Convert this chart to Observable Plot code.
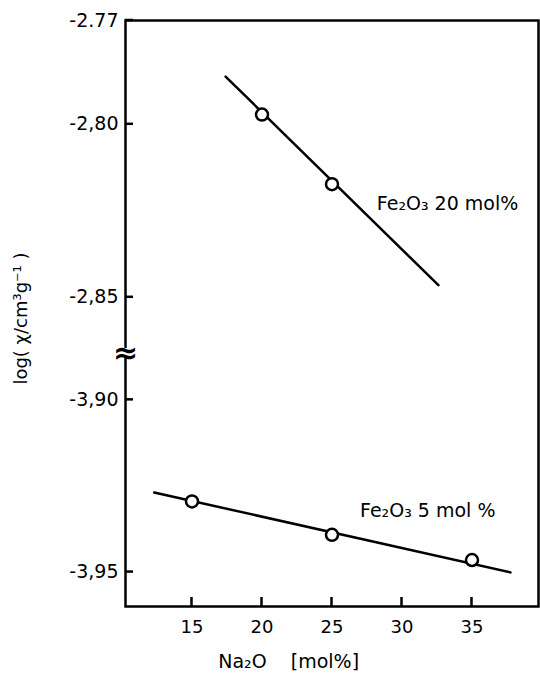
<!DOCTYPE html>
<html><head><meta charset="utf-8">
<script src="https://cdn.jsdelivr.net/npm/d3@7"></script>
<script src="https://cdn.jsdelivr.net/npm/@observablehq/plot@0.6"></script>
<style>body{margin:0;background:#fff;}</style>
</head><body><div id="chart"></div>
<script>
// ---- data ----
const xTicks = [15, 20, 25, 30, 35];
const yTicks = [-2.77, -2.80, -2.85, -3.90, -3.95];
const yTickLabels = ["-2.77", "-2,80", "-2,85", "-3,90", "-3,95"];

const na2o20 = [20, 25];
const logChi20 = [-2.7972, -2.8173];
const na2o5 = [15, 25, 35];
const logChi5 = [-3.9295, -3.9392, -3.9465];

const fit20x = [17.4, 32.6];
const fit20y = [-2.7862, -2.8465];
const fit5x = [12.3, 37.75];
const fit5y = [-3.9269, -3.9501];

const seriesLabels = ["Fe₂O₃ 20 mol%", "Fe₂O₃ 5 mol %"];
const labelX = [28.2, 27.0];
const labelY = [-2.8231, -3.9321];

const xLabel = "Na₂O    [mol%]";
const yLabel = "log( χ/cm³g⁻¹ )";

const xDomain = [10.25, 39.75];
// broken axis: lower segment end, upper segment start
const yDomain = [-3.96, -3.8877, -2.8648, -2.77];
const yBreak = -3.38;

// ---- tables ----
const pts = [
  ...na2o20.map((x, i) => ({x, y: logChi20[i], s: "20"})),
  ...na2o5.map((x, i) => ({x, y: logChi5[i], s: "5"}))
];
const fits = [
  ...fit20x.map((x, i) => ({x, y: fit20y[i], s: "20"})),
  ...fit5x.map((x, i) => ({x, y: fit5y[i], s: "5"}))
];
const labels = seriesLabels.map((t, i) => ({t, x: labelX[i], y: labelY[i]}));

// inward ticks drawn through the plot's own scales
function inwardTicks(index, scales, values, dimensions) {
  const {x, y} = scales;
  const {marginLeft, marginBottom, height} = dimensions;
  const yb = height - marginBottom;
  const g = d3.create("svg:g").attr("stroke", "black").attr("stroke-width", 2.5);
  for (const v of yTicks) {
    g.append("line").attr("x1", marginLeft).attr("x2", marginLeft + 8)
      .attr("y1", y(v)).attr("y2", y(v));
  }
  for (const v of xTicks) {
    g.append("line").attr("x1", x(v)).attr("x2", x(v))
      .attr("y1", yb).attr("y2", yb - 9);
  }
  return g.node();
}

const chart = Plot.plot({
  width: 540,
  height: 678,
  marginLeft: 125,
  marginRight: 2,
  marginTop: 20,
  marginBottom: 72,
  style: {fontFamily: "DejaVu Sans", fontSize: "18px"},
  x: {domain: xDomain},
  y: {type: "linear", domain: yDomain, range: [606, 357, 348, 20]},
  marks: [
    Plot.frame({stroke: "black", strokeWidth: 2.5}),
    Plot.axisY({ticks: yTicks, tickFormat: d => yTickLabels[yTicks.indexOf(d)],
      tickSize: 0, tickPadding: 7, fontSize: 19, label: null}),
    Plot.axisX({ticks: xTicks, tickSize: 0, tickPadding: 14,
      fontSize: 18, label: null}),
    // axis break
    Plot.ruleX([xDomain[0]], {y1: yDomain[1], y2: yDomain[2], stroke: "white", strokeWidth: 6}),
    Plot.text([yBreak], {y: d => d, frameAnchor: "left", textAnchor: "middle",
      text: () => "≈", fontSize: 30, fontWeight: "bold", fill: "black"}),
    Plot.line(fits, {x: "x", y: "y", z: "s", stroke: "black", strokeWidth: 2.5}),
    Plot.dot(pts, {x: "x", y: "y", r: 6, fill: "white", stroke: "black", strokeWidth: 2.5}),
    Plot.text(labels, {x: "x", y: "y", text: "t", textAnchor: "start", fontSize: 19}),
    Plot.text([xLabel], {x: [21.9], frameAnchor: "bottom", textAnchor: "middle",
      dy: 61, text: d => d, fontSize: 19}),
    Plot.text([yLabel], {frameAnchor: "left", textAnchor: "middle", rotate: -90,
      dx: -104, dy: 5, text: d => d, fontSize: 18}),
    inwardTicks
  ]
});
document.getElementById("chart").append(chart);
</script>
</body></html>
